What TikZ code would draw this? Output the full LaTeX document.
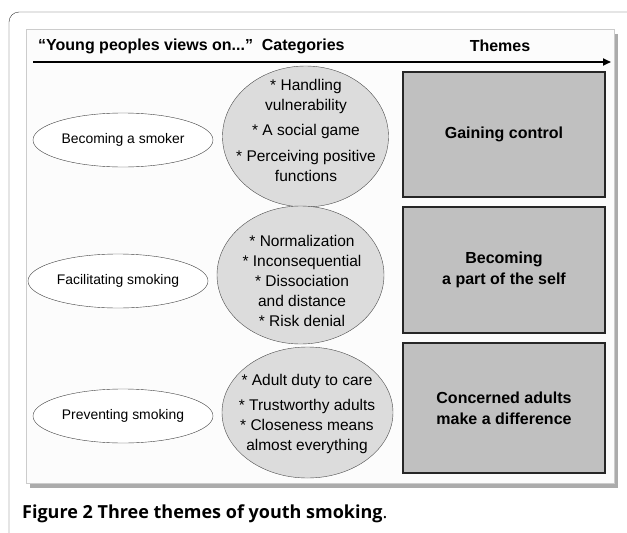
\documentclass[tikz,border=0pt]{standalone}
\usepackage{fontspec}
\setmainfont{Liberation Sans}
\newfontfamily\captionfont{Open Sans}
\usetikzlibrary{arrows.meta,shapes.geometric,shadows}

\definecolor{catgray}{RGB}{220,220,220}
\definecolor{themegray}{RGB}{192,192,192}
\definecolor{panelfill}{RGB}{252,252,252}

\tikzset{
  views/.style={ellipse, draw=black!75, fill=white, minimum width=180pt, minimum height=54pt, inner sep=0pt, font=\fontsize{13.9}{17}\selectfont},
  category/.style={ellipse, draw=black!70, fill=catgray, inner sep=0pt},
  cattext/.style={align=center, inner sep=0pt, font=\fontsize{15.5}{20}\selectfont},
  theme/.style={rectangle, draw=black!85, line width=1.3pt, fill=themegray, minimum width=202pt, inner sep=0pt, align=center, font=\bfseries\fontsize{16}{21}\selectfont},
  heading/.style={inner sep=0pt, font=\bfseries\fontsize{16}{18}\selectfont}
}

\begin{document}
\begin{tikzpicture}[x=1pt, y=-1pt]
  \useasboundingbox (0,0) rectangle (627,533);
  \clip (0,0) rectangle (627,533);

  % outer frame, cut by the page edge
  \draw[black!80, rounded corners=10pt] (9,560) -- (9,12) -- (640,12) -- (640,560);

  % figure panel
  \path[fill=panelfill, draw=black!20, drop shadow={shadow xshift=4pt, shadow yshift=-5pt, fill=black!60, opacity=0.55}] (26,29) rectangle (614,483);

  % headings and the arrow
  \node[heading, anchor=west] (hviews) at (38,46) {“Young peoples views on...”\ \ Categories};
  \node[heading] (hthemes) at (500,46) {Themes};
  \coordinate (axisL) at (33,62);
  \coordinate (axisR) at (611,62);
  \draw[line width=1.8pt, -{Triangle[length=8pt,width=7pt]}] (axisL) -- (axisR);

  % young peoples views
  \foreach \x/\y/\lbl [count=\n from 1] in {123/140/Becoming a smoker, 118/281/Facilitating smoking, 123/416/Preventing smoking} {
    \node[views] (v\n) at (\x,\y) {\lbl};
  }

  % categories
  \node[category, minimum width=166pt, minimum height=141pt] (c1) at (305.5,136.5) {};
  \node[cattext] (c1t) at (306,130) {* Handling\\vulnerability\\[5pt]* A social game\\[6pt]* Perceiving positive\\functions};
  \node[category, minimum width=167pt, minimum height=138pt] (c2) at (300.5,275) {};
  \node[cattext] (c2t) at (302,280.5) {* Normalization\\* Inconsequential\\* Dissociation\\and distance\\* Risk denial};
  \node[category, minimum width=171pt, minimum height=131pt] (c3) at (307.5,412.5) {};
  \node[cattext] (c3t) at (307,413.5) {* Adult duty to care\\[5pt]* Trustworthy adults\\* Closeness means\\almost everything};

  % themes
  \foreach \y/\h/\lbl [count=\n from 1] in {134.5/125/Gaining control, 270/126/Becoming\\a part of the self, 408/130/Concerned adults\\make a difference} {
    \node[theme, minimum height=\h pt] (t\n) at (504,\y) {\lbl};
  }

  % caption
  \node[anchor=base west, inner sep=0pt, font=\captionfont\fontsize{18}{21}\selectfont] (caption) at (22,518) {\bfseries Figure 2 Three themes of youth smoking\mdseries.};
\end{tikzpicture}
\end{document}
